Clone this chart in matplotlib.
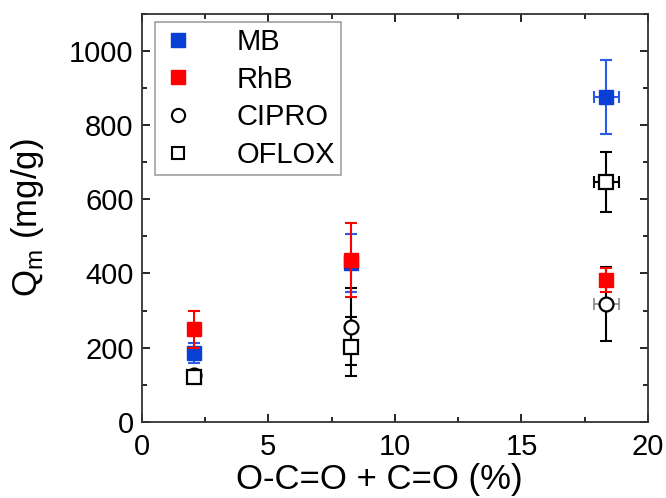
import matplotlib
matplotlib.use("Agg")
import matplotlib.pyplot as plt
from matplotlib.ticker import MultipleLocator

plt.rcParams['font.family'] = ['Liberation Sans', 'DejaVu Sans']

x_vals = [2.05, 8.25, 18.35]
x_err = [0, 0, 0.5]

mb = [186, 428, 877]
mb_err = [27, 78, 100]
rhb = [250, 437, 383]
rhb_err = [50, 100, 33]
cipro = [125, 256, 318]
cipro_err = [0, 104, 100]
oflox = [122, 203, 647]
oflox_err = [0, 80, 80]

fig = plt.figure(figsize=(6.66, 4.98), dpi=100)
ax = fig.add_axes([0.213, 0.153, 0.76, 0.819])

blue = '#0a3fd6'
blue_e = '#2a5ae8'
red = '#ff0000'

ms = 10
cs = 4
# black series
ax.errorbar(x_vals, cipro, yerr=cipro_err, fmt='none', ecolor='black', capsize=cs, elinewidth=1.5, capthick=1.5, zorder=2)
ax.errorbar(x_vals, cipro, xerr=x_err, fmt='none', ecolor='#888888', capsize=cs, elinewidth=1.2, capthick=1.2, zorder=2)
ax.errorbar(x_vals, oflox, yerr=oflox_err, xerr=x_err, fmt='none', ecolor='black', capsize=cs, elinewidth=1.5, capthick=1.5, zorder=2)
ax.plot(x_vals, cipro, 'o', ms=ms, mfc='white', mec='black', mew=1.6, zorder=3, linestyle='none')
ax.plot(x_vals, oflox, 's', ms=ms - 0.5, mfc='white', mec='black', mew=1.6, zorder=3, linestyle='none')
# MB
ax.errorbar(x_vals, mb, yerr=mb_err, xerr=x_err, fmt='none', ecolor=blue_e, capsize=cs, elinewidth=1.5, capthick=1.5, zorder=4)
ax.plot(x_vals, mb, 's', ms=ms, mfc=blue, mec=blue, zorder=5, linestyle='none')
# RhB
ax.errorbar(x_vals, rhb, yerr=rhb_err, fmt='none', ecolor=red, capsize=cs, elinewidth=1.5, capthick=1.5, zorder=6)
ax.plot(x_vals, rhb, 's', ms=ms, mfc=red, mec=red, zorder=7, linestyle='none')

# legend handles
h1, = ax.plot([], [], 's', ms=9.5, mfc=blue, mec=blue, linestyle='none')
h2, = ax.plot([], [], 's', ms=9.5, mfc=red, mec=red, linestyle='none')
h3, = ax.plot([], [], 'o', ms=9.5, mfc='white', mec='black', mew=1.5, linestyle='none')
h4, = ax.plot([], [], 's', ms=9, mfc='white', mec='black', mew=1.5, linestyle='none')
leg = ax.legend([h1, h2, h3, h4], ['MB', 'RhB', 'CIPRO', 'OFLOX'], loc='upper left',
                bbox_to_anchor=(0.026, 0.98), fontsize=21, frameon=True, fancybox=False,
                edgecolor='#888888', handlelength=1.2, handletextpad=1.4, borderpad=0.2,
                labelspacing=0.33, borderaxespad=0)
leg.get_frame().set_linewidth(1.2)

ax.set_xlim(0, 20)
ax.set_ylim(0, 1100)
ax.xaxis.set_major_locator(MultipleLocator(5))
ax.xaxis.set_minor_locator(MultipleLocator(2.5))
ax.yaxis.set_major_locator(MultipleLocator(200))
ax.yaxis.set_minor_locator(MultipleLocator(100))
ax.tick_params(which='both', direction='in', top=True, right=True, labelsize=21, width=1.2)
ax.tick_params(which='major', length=6)
ax.tick_params(which='minor', length=3.5)
ax.tick_params(axis='x', pad=8)
ax.tick_params(axis='y', pad=6)
for s in ax.spines.values():
    s.set_linewidth(1.3)
    s.set_color('#333333')

ax.set_xlabel('O-C=O + C=O (%)', fontsize=25)
ax.set_ylabel('Q$_\\mathregular{m}$ (mg/g)', fontsize=25)
ax.xaxis.set_label_coords(0.47, -0.102, transform=ax.transAxes)
ax.xaxis.label.set_va('top')
ax.yaxis.set_label_coords(-0.19, 0.5, transform=ax.transAxes)

fig.savefig('out.png', dpi=100)
